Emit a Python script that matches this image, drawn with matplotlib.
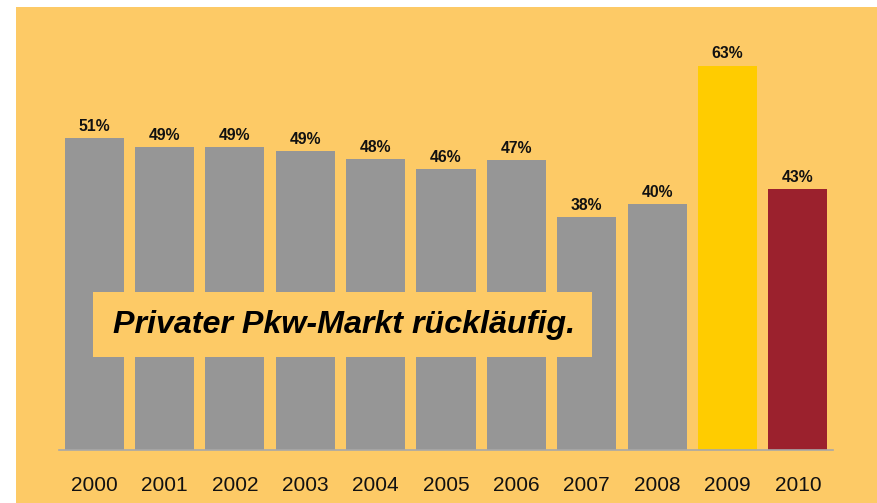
import matplotlib
matplotlib.use("Agg")
import matplotlib.pyplot as plt
from matplotlib.patches import Rectangle

years = ["2000", "2001", "2002", "2003", "2004", "2005", "2006", "2007", "2008", "2009", "2010"]
values = [51.1, 49.6, 49.6, 49.0, 47.7, 46.1, 47.5, 38.2, 40.3, 63.0, 42.8]
labels = ["51%", "49%", "49%", "49%", "48%", "46%", "47%", "38%", "40%", "63%", "43%"]
colors = ["#969696"] * 9 + ["#FFCC00", "#9B212D"]
note = "Privater Pkw-Markt rückläufig."

W, H = 877, 503
bg = "#FDCA66"
fig = plt.figure(figsize=(W / 100, H / 100), dpi=100)
fig.patch.set_facecolor("white")
fig.patches.append(Rectangle((16 / W, 0), 1 - 16 / W, 1 - 7 / H, transform=fig.transFigure,
                             facecolor=bg, edgecolor="none", zorder=-5))

ax_left, ax_right = 59, 833
ax_bottom = 450
scale = 6.1
ymax = 70
ax = fig.add_axes([ax_left / W, (H - ax_bottom) / H, (ax_right - ax_left) / W, ymax * scale / H])
ax.set_facecolor("none")
x = list(range(len(years)))
ax.bar(x, values, width=0.84, color=colors, zorder=2)
ax.set_xlim(-0.5, len(years) - 0.5)
ax.set_ylim(0, ymax)
for xi, v, lab in zip(x, values, labels):
    ax.annotate(lab, (xi, v), xytext=(0, 5.2), textcoords="offset points", ha="center", va="baseline",
                fontsize=11.3, fontweight="bold", family="Liberation Sans", color="#111111")
ax.set_xticks(x)
ax.set_xticklabels(years, fontsize=15, family="Liberation Sans", color="#111111")
ax.tick_params(axis="x", length=0, pad=18.5)
ax.set_yticks([])
for s in ["top", "right", "left"]:
    ax.spines[s].set_visible(False)
ax.spines["bottom"].set_color("#A8A8A8")
ax.spines["bottom"].set_linewidth(1.2)
ax.spines["bottom"].set_zorder(3)

bx0, bx1, by0, by1 = 93, 592, 292, 357
fig.patches.append(Rectangle((bx0 / W, 1 - by1 / H), (bx1 - bx0) / W, (by1 - by0) / H,
                             transform=fig.transFigure, facecolor=bg, edgecolor="none", zorder=5))
fig.text((bx0 + bx1) / 2 / W + 2 / W, 1 - (by0 + by1) / 2 / H, note, ha="center", va="center",
         fontsize=23.2, fontweight="bold", fontstyle="italic", family="Liberation Sans",
         color="black", zorder=6)

fig.savefig("out.png", dpi=100, facecolor=fig.get_facecolor())
